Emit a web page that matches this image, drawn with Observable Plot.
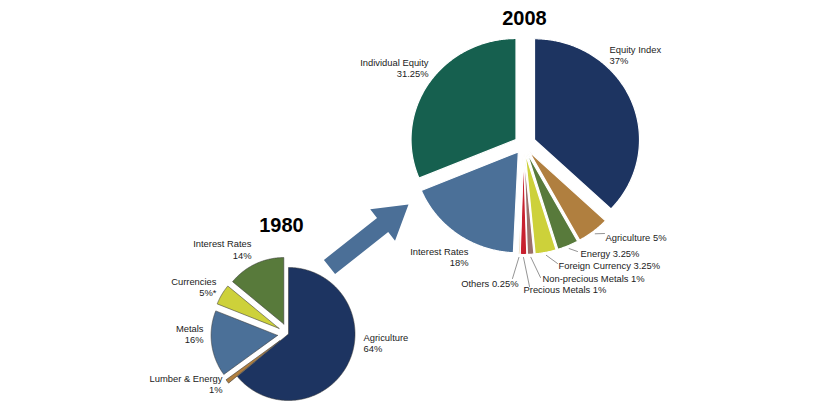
<!DOCTYPE html>
<html><head><meta charset="utf-8">
<script src="https://cdn.jsdelivr.net/npm/d3@7"></script>
<script src="https://cdn.jsdelivr.net/npm/@observablehq/plot@0.6"></script>
<style>
html,body{margin:0;padding:0;background:#fff;}
#chart svg{display:block;}
</style></head><body><div id="chart"></div>
<script>
// ---------- DATA ----------
const title1980 = "1980";
const cats1980 = ["Agriculture", "Lumber & Energy", "Metals", "Currencies", "Interest Rates"];
const vals1980 = [64, 1, 16, 5, 14];
const pct1980  = ["64%", "1%", "16%", "5%*", "14%"];

const title2008 = "2008";
const cats2008 = ["Equity Index", "Agriculture", "Energy", "Foreign Currency", "Non-precious Metals",
                  "Precious Metals", "Others", "Interest Rates", "Individual Equity"];
const vals2008 = [37, 5, 3.25, 3.25, 1, 1, 0.25, 18, 31.25];
const pct2008  = ["37%", "5%", "3.25%", "3.25%", "1%", "1%", "0.25%", "18%", "31.25%"];

// ---------- STYLE / LAYOUT ----------
const colors1980 = ["#1d3461", "#b07f3f", "#4b7098", "#cdd13a", "#587a3b"];
const colors2008 = ["#1d3461", "#b07f3f", "#587a3b", "#cdd13a", "#9b6f6a", "#c8212f", "#d6b27a", "#4b7098", "#16604f"];
const pie1980 = {cx: 288, cy: 333.5, rx: 66.5, ry: 66.5, explode: [0, 11, 11, 11, 11]};
const pie2008 = {cx: 523, cy: 144, rx: 105, ry: 101, explode: [12, 9, 9, 9, 9, 9, 9, 9, 9]};
// label layout: offsets from pie centre (px), anchor, two-line or single-line, optional leader end
const lay1980 = [
  {dx: 75, dy: 9, anchor: "start", lines: 2},
  {dx: -66, dy: 50, anchor: "end", lines: 2},
  {dx: -85, dy: 0, anchor: "end", lines: 2},
  {dx: -72, dy: -47, anchor: "end", lines: 2},
  {dx: -37, dy: -84.5, anchor: "end", lines: 2}
];
const lay2008 = [
  {dx: 86, dy: -89.5, anchor: "start", lines: 2},
  {dx: 82, dy: 93, anchor: "start", lines: 1, lead: [81, 89]},
  {dx: 57, dy: 109, anchor: "start", lines: 1, lead: [54, 107]},
  {dx: 35, dy: 121, anchor: "start", lines: 1, lead: [34, 119]},
  {dx: 19, dy: 134, anchor: "start", lines: 1, lead: [17, 133]},
  {dx: 0, dy: 145, anchor: "start", lines: 1, lead: [6, 142]},
  {dx: -5, dy: 139, anchor: "end", lines: 1, lead: [-11, 134]},
  {dx: -55, dy: 112.5, anchor: "end", lines: 2},
  {dx: -95, dy: -76.5, anchor: "end", lines: 2}
];
const arrow = {x0: 329, y0: 266.5, x1: 408, y1: 204, shaft: 18, head: 40, headLen: 33, color: "#4b6f97"};

// ---------- GEOMETRY ----------
const rad = Math.PI / 180;
function buildPie(name, cats, vals, pcts, colors, pie, lay) {
  const total = d3.sum(vals);
  const poly = [], labels = [], leaders = [];
  let acc = 0;
  cats.forEach((c, i) => {
    const a0 = acc / total * 360, a1 = (acc + vals[i]) / total * 360;
    acc += vals[i];
    const mid = (a0 + a1) / 2 * rad;
    const ex = pie.explode[i];
    const ox = pie.cx + ex * Math.sin(mid), oy = pie.cy - ex * Math.cos(mid);
    const key = name + "|" + c;
    poly.push({k: key, x: ox, y: oy, color: colors[i]});
    const n = Math.max(2, Math.ceil((a1 - a0) / 0.5));
    for (let j = 0; j <= n; j++) {
      const t = (a0 + (a1 - a0) * j / n) * rad;
      poly.push({k: key, x: ox + pie.rx * Math.sin(t), y: oy - pie.ry * Math.cos(t), color: colors[i]});
    }
    poly.push({k: key, x: ox, y: oy, color: colors[i]});
    const L = lay[i];
    labels.push({x: pie.cx + L.dx, y: pie.cy + L.dy, anchor: L.anchor,
                 text: L.lines === 2 ? c + "\n" + pcts[i] : c + " " + pcts[i]});
    if (L.lead) {
      const sx = ox + (pie.rx + 3) * Math.sin(mid), sy = oy - (pie.ry + 3) * Math.cos(mid);
      leaders.push({k: key, x: sx, y: sy});
      leaders.push({k: key, x: pie.cx + L.lead[0], y: pie.cy + L.lead[1]});
    }
  });
  return {poly, labels, leaders};
}
const p80 = buildPie("1980", cats1980, vals1980, pct1980, colors1980, pie1980, lay1980);
const p08 = buildPie("2008", cats2008, vals2008, pct2008, colors2008, pie2008, lay2008);

function arrowPoly(a) {
  const dx = a.x1 - a.x0, dy = a.y1 - a.y0, len = Math.hypot(dx, dy);
  const ux = dx / len, uy = dy / len, px = -uy, py = ux;
  const bx = a.x1 - ux * a.headLen, by = a.y1 - uy * a.headLen;
  const hs = a.shaft / 2, hh = a.head / 2;
  return [
    [a.x0 + px * hs, a.y0 + py * hs], [bx + px * hs, by + py * hs], [bx + px * hh, by + py * hh],
    [a.x1, a.y1], [bx - px * hh, by - py * hh], [bx - px * hs, by - py * hs], [a.x0 - px * hs, a.y0 - py * hs]
  ].map(([x, y]) => ({x, y}));
}
const arrowPts = arrowPoly(arrow);

const titles = [
  {x: 281, y: 225, text: title1980},
  {x: 524, y: 18, text: title2008}
];
const allLabels = [...p80.labels, ...p08.labels];

const W = 816, H = 412;
const chart = Plot.plot({
  width: W, height: H, margin: 0,
  x: {domain: [0, W], range: [0, W], axis: null},
  y: {domain: [0, H], range: [0, H], axis: null},
  color: {type: "identity"},
  style: {fontFamily: "'Liberation Sans', Arial, sans-serif", background: "#fff"},
  marks: [
    Plot.line(arrowPts, {x: "x", y: "y", fill: arrow.color, stroke: "none", curve: "linear"}),
    Plot.line(p80.poly, {x: "x", y: "y", z: "k", fill: "color", stroke: "#3a3a3a", strokeWidth: 0.8, strokeOpacity: 0.7, curve: "linear"}),
    Plot.line(p08.poly, {x: "x", y: "y", z: "k", fill: "color", stroke: "#ffffff", strokeWidth: 1.2, curve: "linear"}),
    Plot.line(p08.leaders, {x: "x", y: "y", z: "k", stroke: "#666", strokeWidth: 0.7, curve: "linear"}),
    Plot.text(allLabels.filter(d => d.anchor === "end"), {x: "x", y: "y", text: "text", textAnchor: "end", fontSize: 9.4, lineHeight: 1.2, fill: "#222"}),
    Plot.text(allLabels.filter(d => d.anchor === "start"), {x: "x", y: "y", text: "text", textAnchor: "start", fontSize: 9.4, lineHeight: 1.2, fill: "#222"}),
    Plot.text(titles, {x: "x", y: "y", text: "text", fontSize: 20, fontWeight: "bold", fill: "#000"})
  ]
});
document.getElementById("chart").appendChild(chart);
</script>
</body></html>
